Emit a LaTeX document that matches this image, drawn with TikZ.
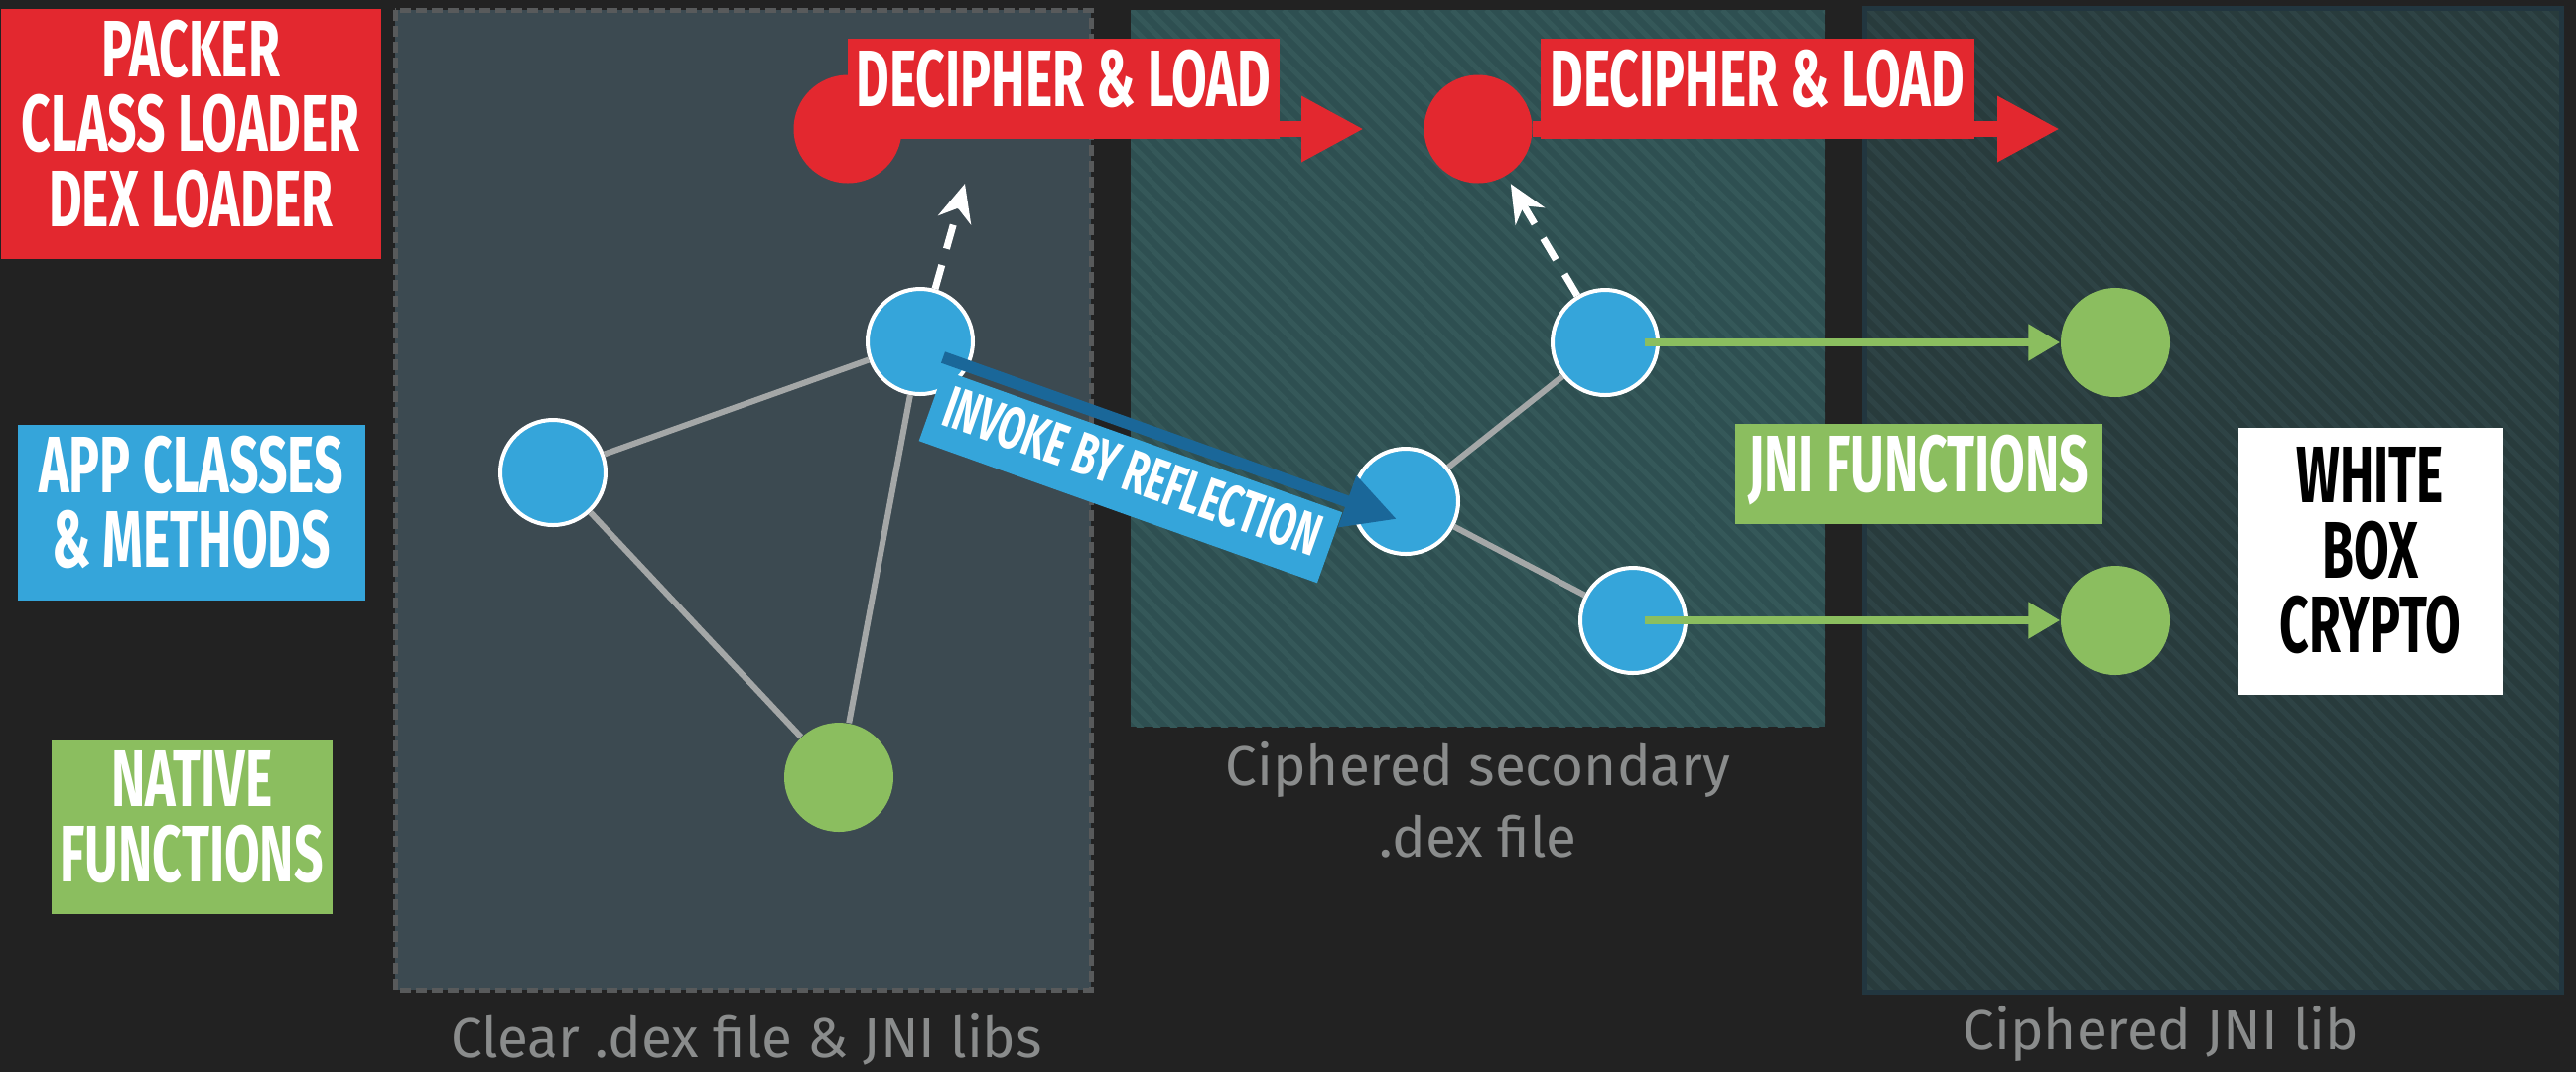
\documentclass[tikz,border=0pt]{standalone}
\usepackage{fontspec}
\usetikzlibrary{arrows.meta}
\newfontfamily\dinfont[FakeStretch=0.64]{Fira Sans}
\newfontfamily\capfont{Fira Sans}
\definecolor{bg}{HTML}{222222}
\definecolor{clearpanel}{HTML}{3C4A51}
\definecolor{clearborder}{HTML}{585A5B}
\definecolor{cipherpanel}{HTML}{2E4F51}
\definecolor{cipherstripe}{HTML}{355859}
\definecolor{jnipanel}{HTML}{283B3C}
\definecolor{jnistripe}{HTML}{2E4345}
\definecolor{jniborder}{HTML}{22363F}
\definecolor{pkred}{HTML}{E3282F}
\definecolor{appblue}{HTML}{35A5DA}
\definecolor{invokeblue}{HTML}{1A6799}
\definecolor{natgreen}{HTML}{8BBE5F}
\definecolor{edgegray}{HTML}{A4A7A7}
\definecolor{capgray}{HTML}{8A8C8C}
\tikzset{
  method/.style={circle, fill=appblue, draw=white, line width=0.4mm, minimum size=10.6mm, inner sep=0pt},
  native/.style={circle, fill=natgreen, minimum size=11mm, inner sep=0pt},
  packer/.style={circle, fill=pkred, minimum size=10.9mm, inner sep=0pt},
  tag/.style={font=\dinfont\bfseries\fontsize{23}{21.5}\selectfont, text=white, align=center,
    inner xsep=0pt, inner ysep=1.1mm, text depth=2.2mm, anchor=north west},
  invokelabel/.style={fill=appblue, text=white, font=\dinfont\bfseries\fontsize{17}{16}\selectfont,
    inner xsep=0pt, inner ysep=1.0mm, text depth=1.3mm, minimum width=42.6mm},
  link/.style={draw=edgegray, line width=0.6mm},
  jni/.style={draw=natgreen, line width=0.8mm, -{Triangle[length=3.2mm,width=3.5mm]}},
  loadcall/.style={draw=white, line width=0.7mm, dash pattern=on 2.5mm off 1.7mm, -{Stealth[length=3.8mm,width=3.4mm]}},
  loadarrow/.style={draw=pkred, line width=1.6mm, -{Triangle[length=6.3mm,width=6.2mm]}},
  invoke/.style={draw=invokeblue, line width=1.2mm, -{Triangle[length=5.3mm,width=5.2mm]}},
  stripe/.style={line width=0.5mm},
  caption/.style={font=\capfont\fontsize{16.1}{20.5}\selectfont, text=capgray, align=center, anchor=north, inner sep=0pt},
}
\begin{document}
\begin{tikzpicture}[x=0.1mm, y=-0.1mm]

   \useasboundingbox (0,0) rectangle (2595,1080);
   \fill[bg] (0,0) rectangle (2595,1080);

   \fill[clearpanel] (398,10) rectangle (1099,997);
   \draw[clearborder, line width=0.5mm, dash pattern=on 1.1mm off 0.5mm] (398,10) rectangle (1099,997);

   \fill[cipherpanel] (1139,10) rectangle (1838,732);
   \begin{scope}
     \clip (1139,10) rectangle (1838,732);
     \foreach \c in {0,17,...,1450}
       \draw[stripe, cipherstripe] (409+\c,10) -- ++(730,730);
   \end{scope}

   \fill[jnipanel] (1878,8) rectangle (2580,999);
   \begin{scope}
     \clip (1878,8) rectangle (2580,999);
     \foreach \c in {0,17,...,1720}
       \draw[stripe, jnistripe] (878+\c,8) -- ++(1000,1000);
   \end{scope}
   \draw[jniborder, line width=0.5mm] (1878,8) rectangle (2580,999);

   \node[tag, fill=pkred, minimum width=38.3mm] (lgpk) at (0,8) {PACKER\\CLASS LOADER\\DEX LOADER};
   \node[tag, fill=appblue, minimum width=35mm] (lgapp) at (17,427) {APP CLASSES\\\& METHODS};
   \node[tag, fill=natgreen, minimum width=28.3mm] (lgnat) at (51,745) {NATIVE\\FUNCTIONS};

   \node[packer] (pk1) at (854,130) {};
   \node[packer] (pk2) at (1489,130) {};
   \coordinate (ld1) at (1374,130);
   \coordinate (ld2) at (2075,130);
   \draw[loadarrow] (pk1.center) -- (ld1);
   \draw[loadarrow] (pk2.east) -- (ld2);
   \node[tag, fill=pkred, minimum width=43.5mm] (dec1) at (853,38) {DECIPHER \& LOAD};
   \node[tag, fill=pkred, minimum width=43.7mm] (dec2) at (1551,38) {DECIPHER \& LOAD};

   \node[method] (m1) at (557,476) {};
   \node[method] (m2) at (927,344) {};
   \node[method] (m3) at (1416,505) {};
   \node[method] (m4) at (1617,345) {};
   \node[method] (m5) at (1645,625) {};
   \node[native] (n1) at (845,783) {};
   \node[native] (n2) at (2131,345) {};
   \node[native] (n3) at (2131,625) {};

   \draw[link] (m1) -- (m2);
   \draw[link] (m1) -- (n1);
   \draw[link] (m2) -- (n1);
   \draw[link] (m3) -- (m4);
   \draw[link] (m3) -- (m5);

   \coordinate (up1) at (972,185);
   \draw[loadcall] (m2) -- (up1);
   \draw[loadcall, shorten >=0.9mm] (m4) -- (pk2);

   \draw[jni] ([xshift=4mm]m4.center) -- (n2);
   \draw[jni] ([xshift=1.2mm]m5.center) -- (n3);

   \draw[invoke] ([shift={(23,16)}]m2.center) -- ([shift={(-9,18)}]m3.center)
     node[invokelabel, pos=0.45, sloped, below=0.6mm] (invk) {INVOKE BY REFLECTION};

   \node[tag, fill=natgreen, minimum width=37mm] (lgjni) at (1747,426) {JNI FUNCTIONS};
   \node[tag, fill=white, text=black, minimum width=26.6mm, inner ysep=2mm] (lgwb) at (2254,430) {WHITE\\BOX\\CRYPTO};

   \node[caption] (capclear) at (752,1021) {Clear .dex file \& JNI libs};
   \node[caption] (capdex) at (1489,747) {Ciphered secondary\\.dex file};
   \node[caption] (capjni) at (2177,1013) {Ciphered JNI lib};

\end{tikzpicture}
\end{document}
